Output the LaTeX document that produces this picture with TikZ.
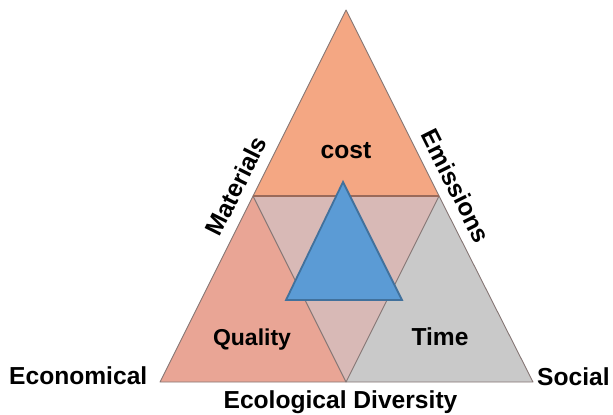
\documentclass[tikz,border=0pt]{standalone}
\usepackage{fontspec}
\setmainfont{Liberation Sans}
\definecolor{topfill}{HTML}{F4A783}
\definecolor{leftfill}{HTML}{E9A595}
\definecolor{midfill}{HTML}{D8B9B6}
\definecolor{rightfill}{HTML}{C9C9C9}
\definecolor{edgecol}{HTML}{857674}
\definecolor{basecol}{HTML}{9A6A5A}
\definecolor{bluefill}{HTML}{5B9BD5}
\definecolor{blueedge}{HTML}{41719C}
\tikzset{
  lbl/.style={font=\fontsize{24.6bp}{28bp}\selectfont\bfseries, inner sep=0pt, text=black},
  part/.style={draw=edgecol, line width=0.9bp, line join=round},
}
\begin{document}
\begin{tikzpicture}[x=1bp,y=-1bp]
\useasboundingbox (0,0) rectangle (613,414);
\coordinate (T) at (346,10);
\coordinate (A) at (253,196);
\coordinate (B) at (439,196);
\coordinate (L) at (160,382);
\coordinate (M) at (346,382);
\coordinate (R) at (533,382);
\coordinate (bT) at (343,182);
\coordinate (bL) at (286,300);
\coordinate (bR) at (402,300);
% triangles
\fill[leftfill] (L) -- (A) -- (M) -- cycle;
\fill[rightfill] (M) -- (B) -- (R) -- cycle;
\fill[midfill] (A) -- (B) -- (M) -- cycle;
\fill[topfill] (T) -- (A) -- (B) -- cycle;
\draw[part] (L) -- (A) -- (M) -- cycle;
\draw[part] (M) -- (B) -- (R) -- cycle;
\draw[part] (T) -- (A) -- (B) -- cycle;
\draw[basecol, line width=1.6bp] (A) -- (B);
% blue triangle
\draw[fill=bluefill, draw=blueedge, line width=1.8bp, line join=miter] (bT) -- (bL) -- (bR) -- cycle;
% labels
\node[lbl, anchor=base] (cost) at (346,158) {cost};
\node[lbl, anchor=base, font=\fontsize{23bp}{27bp}\selectfont\bfseries] (quality) at (252,345) {Quality};
\node[lbl, anchor=base] (time) at (440,345) {Time};
\node[lbl, anchor=base west] (econ) at (9,384) {Economical};
\node[lbl, anchor=base west] (social) at (537,385) {Social};
\node[lbl, anchor=base] (eco) at (340.5,408) {Ecological Diversity};
\node[lbl, rotate=63.4] (mat) at (236,186) {Materials};
\node[lbl, rotate=-63.4] (emi) at (456,186) {Emissions};
\end{tikzpicture}
\end{document}
